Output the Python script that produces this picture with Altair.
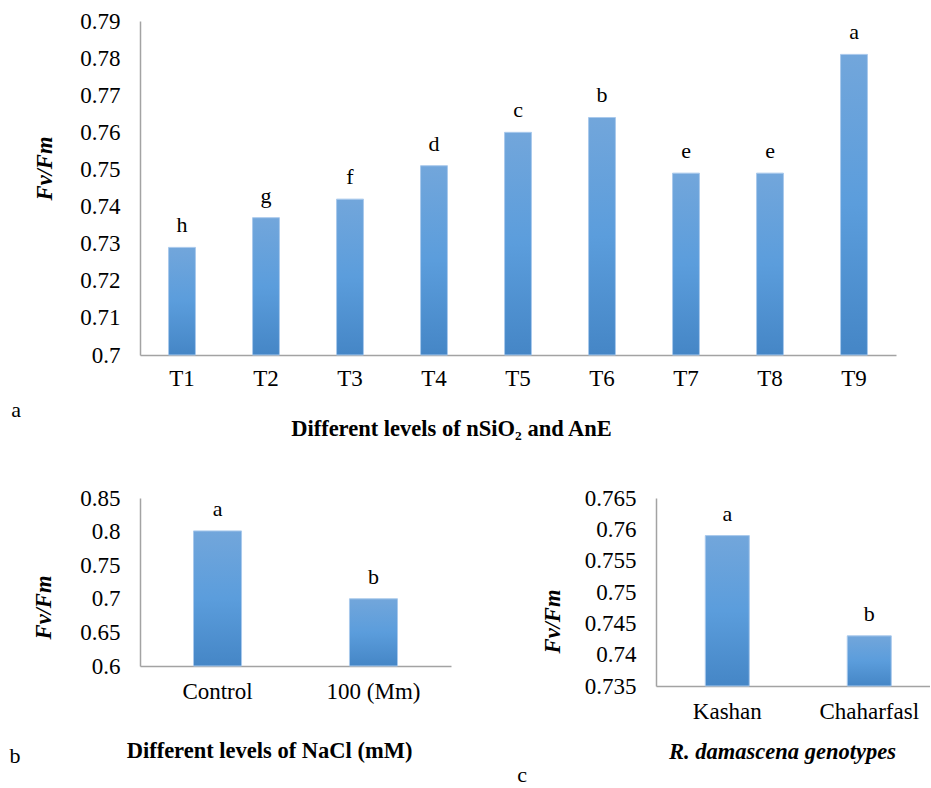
import altair as alt
import pandas as pd

# Panel a: nSiO2 / AnE treatments
treatments = ["T1", "T2", "T3", "T4", "T5", "T6", "T7", "T8", "T9"]
fvfm_treat = [0.729, 0.737, 0.742, 0.751, 0.760, 0.764, 0.749, 0.749, 0.781]
groups_treat = ["h", "g", "f", "d", "c", "b", "e", "e", "a"]
ticks_treat = [0.70, 0.71, 0.72, 0.73, 0.74, 0.75, 0.76, 0.77, 0.78, 0.79]

# Panel b: NaCl levels
nacl_levels = ["Control", "100 (Mm)"]
fvfm_nacl = [0.801, 0.700]
groups_nacl = ["a", "b"]
ticks_nacl = [0.60, 0.65, 0.70, 0.75, 0.80, 0.85]

# Panel c: genotypes
genotypes = ["Kashan", "Chaharfasl"]
fvfm_geno = [0.759, 0.743]
groups_geno = ["a", "b"]
ticks_geno = [0.735, 0.740, 0.745, 0.750, 0.755, 0.760, 0.765]

panel_tags = ["a", "b", "c"]

SERIF = "Liberation Serif"
FS_LABEL = 23
FS_TITLE = 22.5
FS_TEXT = 22

bar_fill = alt.Gradient(
    gradient="linear",
    stops=[
        alt.GradientStop(color="#72a6db", offset=0),
        alt.GradientStop(color="#5b9ddc", offset=0.5),
        alt.GradientStop(color="#4586c6", offset=1),
    ],
    x1=0, x2=0, y1=0, y2=1,
)


def panel(cats, vals, groups, ticks, fmt, width, height, pad_in, pad_out, align,
          xtitle, xtitle_pos, xtitle_italic, ytitle_pos, tag, tag_pos, label_pad):
    df = pd.DataFrame({"cat": cats, "val": vals, "grp": groups})
    lo, hi = ticks[0], ticks[-1]
    x = alt.X(
        "cat:N", sort=cats,
        scale=alt.Scale(paddingInner=pad_in, paddingOuter=pad_out, align=align),
        axis=alt.Axis(
            title=xtitle, labelAngle=0, ticks=False, labelPadding=label_pad,
            labelFont=SERIF, labelFontSize=FS_LABEL, labelColor="#000000",
            labelOverlap=False, labelFlush=False,
            domainColor="#a3a3a3", domainWidth=1.5,
            titleFont=SERIF, titleFontSize=FS_TITLE, titleFontWeight="bold",
            titleFontStyle="italic" if xtitle_italic else "normal",
            titleColor="#000000", titleX=xtitle_pos[0], titleY=xtitle_pos[1],
            titleAlign="center", titleBaseline="middle",
        ),
    )
    y = alt.Y(
        "val:Q",
        scale=alt.Scale(domain=[lo, hi], nice=False, zero=False),
        axis=alt.Axis(
            title="Fv/Fm", values=ticks, format=fmt, ticks=False, grid=False,
            labelPadding=20, labelFont=SERIF, labelFontSize=FS_LABEL,
            labelColor="#000000",
            labelOverlap=False, labelFlush=False, labelBaseline="middle",
            domainColor="#a3a3a3", domainWidth=1.5,
            titleFont=SERIF, titleFontSize=FS_TITLE, titleFontWeight="bold",
            titleFontStyle="italic", titleColor="#000000", titleAngle=270,
            titleX=ytitle_pos[0], titleY=ytitle_pos[1],
            titleAlign="center", titleBaseline="middle",
        ),
    )
    base = alt.Chart(df)
    bars = base.mark_bar(fill=bar_fill, stroke="#a9c9ec", strokeWidth=1).encode(
        x=x, y=y, y2=alt.datum(lo)
    )
    letters = base.mark_text(
        font=SERIF, fontSize=FS_TEXT, baseline="alphabetic", dy=-15, color="#000000"
    ).encode(x=x, y=y, text="grp:N")
    tag_mark = alt.Chart(pd.DataFrame({"t": [tag]})).mark_text(
        font=SERIF, fontSize=FS_TEXT, baseline="middle", align="center", color="#000000"
    ).encode(x=alt.value(tag_pos[0]), y=alt.value(tag_pos[1]), text="t:N")
    return alt.layer(bars, letters, tag_mark).properties(width=width, height=height)


top = panel(treatments, fvfm_treat, groups_treat, ticks_treat, ".2~f",
            756, 334, 0.68, 0.34, 0.5,
            "Different levels of nSiO\u2082 and AnE", (311, 73), False,
            (-96, 147), panel_tags[0], (-124, 389), 12)

left = panel(nacl_levels, fvfm_nacl, groups_nacl, ticks_nacl, ".2~f",
             311, 168, 0.692, 0.343, 0.5,
             "Different levels of NaCl (mM)", (129, 84), False,
             (-97, 109), panel_tags[1], (-125, 258), 14)

right = panel(genotypes, fvfm_geno, groups_geno, ticks_geno, ".3~f",
              274, 188, 0.69, 0.31, 0.56,
              "R. damascena genotypes", (126, 65), True,
              (-104, 123), panel_tags[2], (-134, 277), 14)

bottom = alt.hconcat(left, right, spacing=205, bounds="flush")

chart = alt.vconcat(top, bottom, spacing=143, bounds="flush").properties(
    padding={"left": 9, "top": 10, "right": 0, "bottom": 0},
    background="#ffffff",
).configure_view(stroke=None).configure_axis(grid=False)

chart.save("out.html", embed_options={"renderer": "svg", "actions": False})
